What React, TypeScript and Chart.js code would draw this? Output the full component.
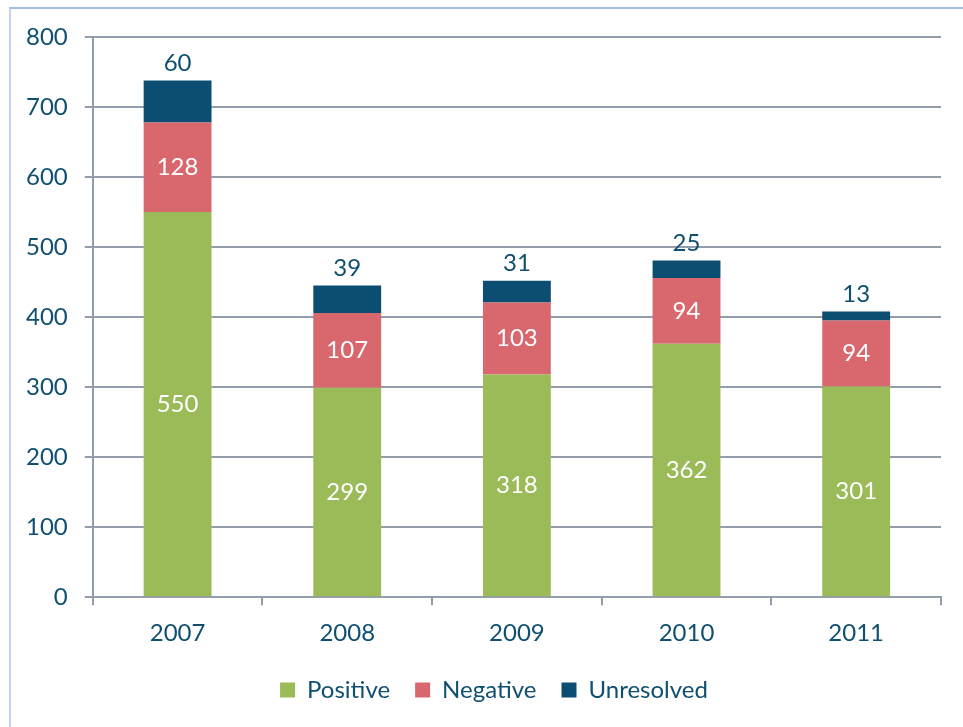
import React, { useEffect, useRef } from "react";
import { Chart, registerables } from "chart.js";

Chart.register(...registerables);

const categories = ["2007", "2008", "2009", "2010", "2011"];
const positive = [550, 299, 318, 362, 301];
const negative = [128, 107, 103, 94, 94];
const unresolved = [60, 39, 31, 25, 13];
const yTicks = [0, 100, 200, 300, 400, 500, 600, 700, 800];

const TEXT = "#0f4f70";
const GRID = "#939eaa";
const FONT = "Lato";
const FS = 24;

const labelPlugin = {
  id: "stackLabels",
  afterLayout(chart: any) {
    if (chart.legend) {
      chart.legend.left += 19;
      chart.legend.right += 19;
    }
  },
  afterDatasetsDraw(chart: any) {
    const ctx = chart.ctx;
    ctx.save();
    ctx.font = `${FS}px ${FONT}`;
    ctx.textAlign = "center";
    ctx.textBaseline = "middle";
    chart.data.datasets.forEach((ds: any, di: number) => {
      const meta = chart.getDatasetMeta(di);
      meta.data.forEach((bar: any, i: number) => {
        const v = ds.data[i];
        if (di < 2) {
          ctx.fillStyle = "#ffffff";
          ctx.fillText(String(v), bar.x, (bar.y + bar.base) / 2);
        } else {
          ctx.fillStyle = TEXT;
          ctx.fillText(String(v), bar.x, bar.y - 17);
        }
      });
    });
    ctx.restore();
  },
};

export default function App() {
  const ref = useRef<HTMLCanvasElement>(null);
  useEffect(() => {
    if (!ref.current) return;
    const chart = new Chart(ref.current, {
      type: "bar",
      data: {
        labels: categories,
        datasets: [
          { label: "Positive", data: positive, backgroundColor: "#9bbb59" },
          { label: "Negative", data: negative, backgroundColor: "#d9686e" },
          { label: "Unresolved", data: unresolved, backgroundColor: "#0b4e72" },
        ],
      },
      options: {
        animation: false,
        responsive: false,
        maintainAspectRatio: false,
        datasets: { bar: { barPercentage: 0.4, categoryPercentage: 1 } } as any,
        layout: { padding: { top: 37, left: 9, right: 22, bottom: 15 } },
        plugins: {
          legend: {
            position: "bottom",
            labels: {
              boxWidth: 15,
              boxHeight: 15,
              padding: 25,
              color: TEXT,
              font: { family: FONT, size: FS },
            },
          },
          tooltip: { enabled: false },
        },
        scales: {
          x: {
            stacked: true,
            offset: true,
            afterFit: (axis: any) => {
              axis.height -= 9;
            },
            grid: { drawOnChartArea: false, drawTicks: true, tickLength: 8, color: GRID, lineWidth: 2, offset: true },
            border: { display: true, color: GRID, width: 2 },
            ticks: { color: TEXT, font: { family: FONT, size: FS }, padding: 14 },
          },
          y: {
            stacked: true,
            min: 0,
            max: 800,
            afterBuildTicks: (axis: any) => {
              axis.ticks = yTicks.map((v) => ({ value: v }));
            },
            grid: { color: GRID, lineWidth: 2, tickLength: 8 },
            border: { display: true, color: GRID, width: 2 },
            ticks: { color: TEXT, font: { family: FONT, size: FS }, padding: 17 },
          },
        },
      },
      plugins: [labelPlugin],
    });
    return () => chart.destroy();
  }, []);
  return (
    <div style={{ position: "absolute", left: 0, top: 0, width: 963, height: 727, background: "#fff" }}>
      <div
        style={{
          position: "absolute",
          left: 9,
          top: 7,
          right: 0,
          bottom: 0,
          borderTop: "2px solid #a3bce5",
          borderLeft: "2px solid #c3d3ee",
        }}
      />
      <canvas ref={ref} width={963} height={727} style={{ position: "absolute", left: 0, top: 0 }} />
    </div>
  );
}
